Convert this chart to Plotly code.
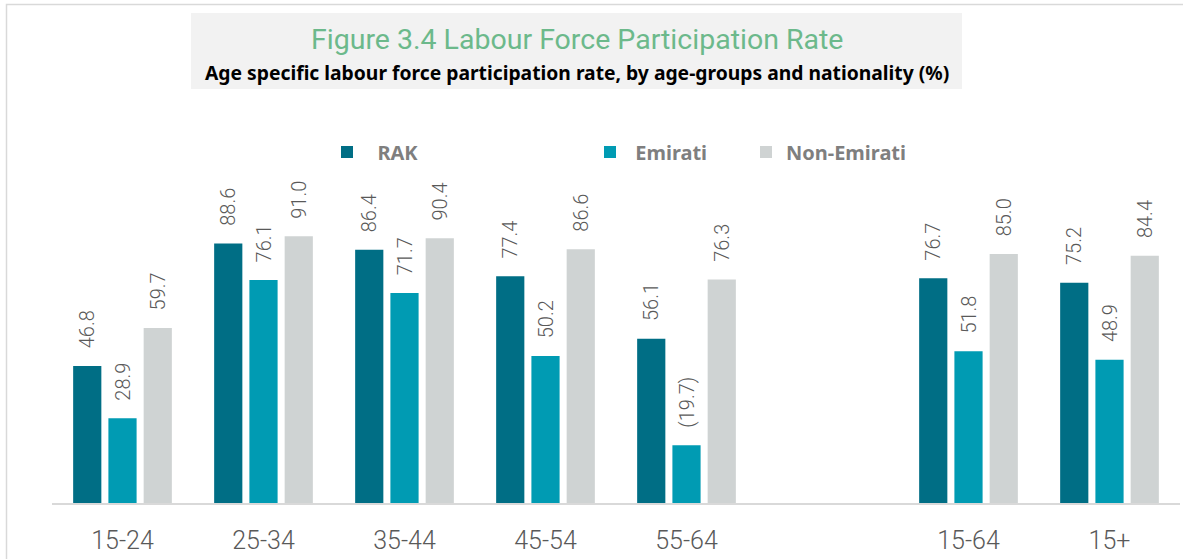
import plotly.graph_objects as go

# categories (blank slot separates the age groups from the totals)
categories = ["15-24", "25-34", "35-44", "45-54", "55-64", " ", "15-64", "15+"]
rak = [46.8, 88.6, 86.4, 77.4, 56.1, None, 76.7, 75.2]
emirati = [28.9, 76.1, 71.7, 50.2, 19.7, None, 51.8, 48.9]
non_emirati = [59.7, 91.0, 90.4, 86.6, 76.3, None, 85.0, 84.4]
# the 55-64 Emirati value is shown in brackets in the source
emirati_labels = ["28.9", "76.1", "71.7", "50.2", "(19.7)", "", "51.8", "48.9"]

W, H = 1183, 559
L, R, T, B = 52, 3, 210, 56


def px_x(p):
    return (p - L) / (W - L - R)


def px_y(p):
    return (H - B - p) / (H - T - B)


def fmt(vals):
    # leading nbsp pushes the rotated label a little above the bar
    return ["\u00a0\u00a0\u00a0" + f"{v:.1f}" if v is not None else "" for v in vals]


series = [
    ("\u00a0\u00a0RAK", rak, fmt(rak), "#006e85", "legend"),
    ("\u00a0Emirati", emirati, ["\u00a0\u00a0\u00a0" + s if s else "" for s in emirati_labels], "#009bb3", "legend2"),
    ("Non-Emirati", non_emirati, fmt(non_emirati), "#cfd3d3", "legend3"),
]

fig = go.Figure()
for name, vals, labels, color, leg in series:
    fig.add_trace(
        go.Bar(
            x=categories,
            y=vals,
            name=name,
            marker=dict(color=color, line=dict(width=0)),
            text=labels,
            textposition="outside",
            textangle=-90,
            constraintext="none",
            cliponaxis=False,
            textfont=dict(family="Roboto", size=20, color="#595959", weight=300),
            legend=leg,
            showlegend=True,
        )
    )

legend_font = dict(family="Noto Sans", size=20, color="#7f7f7f", weight="bold")
leg_common = dict(orientation="h", yanchor="middle", y=px_y(152), xanchor="left",
                  font=legend_font, bgcolor="rgba(0,0,0,0)")

fig.update_layout(
    width=W,
    height=H,
    margin=dict(l=L, r=R, t=T, b=B),
    paper_bgcolor="white",
    plot_bgcolor="white",
    showlegend=True,
    barmode="group",
    bargap=0.25,
    bargroupgap=0.2,
    legend=dict(x=px_x(327), **leg_common),
    legend2=dict(x=px_x(590), **leg_common),
    legend3=dict(x=px_x(746), **leg_common),
    xaxis=dict(
        showline=True,
        linecolor="#d9d9d9",
        linewidth=2,
        showgrid=False,
        ticks="",
        automargin=False,
        ticklabelstandoff=14,
        tickfont=dict(family="Roboto", size=25, color="#595959", weight=300),
    ),
    yaxis=dict(range=[0, 100], visible=False),
    shapes=[
        # outer frame
        dict(type="rect", xref="paper", yref="paper",
             x0=px_x(6.5), x1=px_x(1200), y0=px_y(600), y1=px_y(4.5),
             line=dict(color="#d9d9d9", width=1.5), fillcolor="rgba(0,0,0,0)", layer="below"),
        # title box
        dict(type="rect", xref="paper", yref="paper",
             x0=px_x(191), x1=px_x(962), y0=px_y(89), y1=px_y(13),
             line=dict(width=0), fillcolor="#f2f2f2", layer="below"),
    ],
    annotations=[
        dict(text="Figure 3.4 Labour Force Participation Rate", xref="paper", yref="paper",
             x=px_x(576.5), y=px_y(39), xanchor="center", yanchor="middle", showarrow=False,
             font=dict(family="Roboto", size=28.5, color="#6cb98b")),
        dict(text="<b>Age specific labour force participation rate, by age-groups and nationality (%)</b>",
             xref="paper", yref="paper",
             x=px_x(576.5), y=px_y(73), xanchor="center", yanchor="middle", showarrow=False,
             font=dict(family="Noto Sans", size=19.3, color="#000000")),
    ],
)

# drop the browser's default body margin so the figure fills the window
fig.write_html("out.html", config={"displayModeBar": False},
               post_script="document.body.style.margin='0';")
